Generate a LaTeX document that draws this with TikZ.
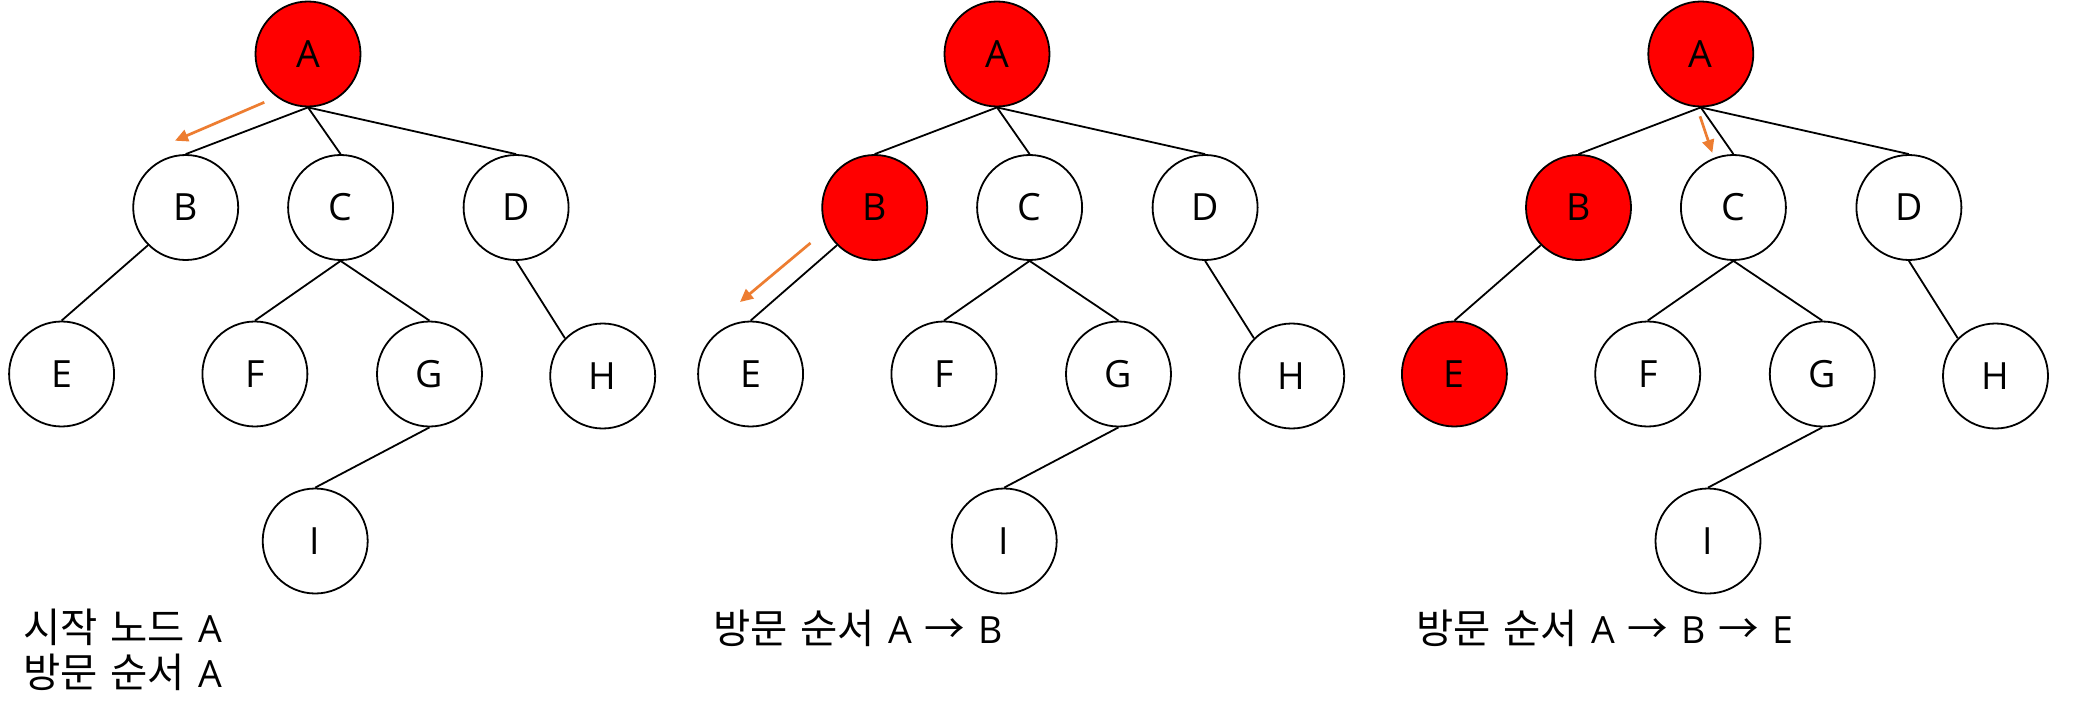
\documentclass[tikz,border=0pt]{standalone}
\usepackage{fontspec}
\setmainfont{Open Sans}
\newfontfamily\ko[Scale=1.08]{Noto Sans CJK KR}
\usetikzlibrary{arrows.meta}
\definecolor{hintorange}{RGB}{237,125,49}
\newcommand{\capfont}{\fontsize{37.5}{44.3}\selectfont\spaceskip=13pt plus 0pt minus 0pt\relax}
\newcommand{\drawtree}[5]{%
  \begin{scope}[xshift=#2pt]
    \node[#3] (#1A) at (308,54) {A};
    \node[#4] (#1B) at (185.7,207.5) {B};
    \node[tnode] (#1C) at (340.6,207.5) {C};
    \node[tnode] (#1D) at (516.1,207.5) {D};
    \node[#5] (#1E) at (61.6,374) {E};
    \node[tnode] (#1F) at (254.9,374) {F};
    \node[tnode] (#1G) at (429.5,374) {G};
    \node[tnode] (#1H) at (602.7,376) {H};
    \node[tnode] (#1I) at (315.2,541) {I};
    \draw[edge] (#1A.south) -- (#1B.north);
    \draw[edge] (#1A.south) -- (#1C.north);
    \draw[edge] (#1A.south) -- (#1D.north);
    \draw[edge] (#1B.south west) -- (#1E.north);
    \draw[edge] (#1C.south) -- (#1F.north);
    \draw[edge] (#1C.south) -- (#1G.north);
    \draw[edge] (#1D.south) -- (#1H.north west);
    \draw[edge] (#1G.south) -- (#1I.north);
  \end{scope}}
\begin{document}
\begin{tikzpicture}[x=1pt,y=-1pt,
  tnode/.style={circle,draw=black,line width=1.8pt,fill=white,minimum size=105pt,inner sep=0pt,font=\fontsize{37.5}{43}\selectfont},
  visited/.style={tnode,fill=red},
  edge/.style={draw=black,line width=1.8pt},
  hint/.style={draw=hintorange,line width=2.7pt,-{Triangle[length=13pt,width=12pt]}},
  caption/.style={anchor=base west,inner sep=0pt,align=left,font=\capfont}]
\useasboundingbox[fill=white] (0,0) rectangle (2073,717);
\drawtree{t1}{0}{visited}{tnode}{tnode}
\drawtree{t2}{689}{visited}{visited}{tnode}
\drawtree{t3}{1392.8}{visited}{visited}{visited}
\coordinate (h1s) at (264.3,102.3);
\coordinate (h1e) at (175,140.7);
\coordinate (h2s) at (810.5,243);
\coordinate (h2e) at (740,302);
\coordinate (h3s) at (1700,116.3);
\coordinate (h3e) at (1712.3,152.8);
\draw[hint] (h1s) -- (h1e);
\draw[hint] (h2s) -- (h2e);
\draw[hint] (h3s) -- (h3e);
\node[caption] (cap1) at (23,687) {{\ko 시작 노드} A\\{\ko 방문 순서} A};
\node[caption] (cap2) at (713,643) {{\ko 방문 순서} A {\ko →} B};
\node[caption] (cap3) at (1416,643) {{\ko 방문 순서} A {\ko →} B {\ko →} E};
\end{tikzpicture}
\end{document}
